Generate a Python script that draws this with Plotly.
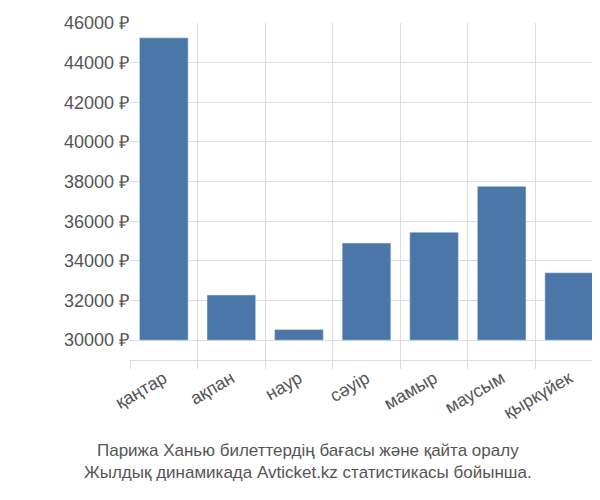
import plotly.graph_objects as go

months = ["қаңтар", "ақпан", "наур", "сәуір", "мамыр", "маусым", "қыркүйек"]
prices = [45250, 32280, 30540, 34900, 35450, 37760, 33400]
base_price = 30000
tick_vals = [30000, 32000, 34000, 36000, 38000, 40000, 42000, 44000, 46000]
tick_text = [f"{v} ₽" for v in tick_vals]

fig = go.Figure(go.Bar(
    x=months,
    y=[p - base_price for p in prices],
    base=base_price,
    marker_color="#4a76a8",
    width=0.72,
))

fig.update_layout(
    width=600, height=500,
    margin=dict(l=122, r=5, t=15, b=148, autoexpand=False),
    plot_bgcolor="white", paper_bgcolor="white",
    font=dict(family="Liberation Sans, Arial", color="#555", size=18),
    showlegend=False,
    annotations=[dict(
        text="Парижа Ханью билеттердің бағасы және қайта оралу<br>Жылдық динамикада Avticket.kz статистикасы бойынша.",
        xref="paper", yref="paper", x=(300 - 122) / 473, y=-0.235,
        xanchor="center", yanchor="top",
        showarrow=False, align="center", font=dict(size=17, color="#555"),
    )],
)
fig.update_xaxes(
    tickson="boundaries", showgrid=True, gridcolor="#ddd", tickangle=-30,
    ticks="outside", ticklen=8, tickcolor="#ddd", showline=True, linecolor="#ddd",
    automargin=False,
)
fig.update_yaxes(
    range=[29000, 46000], tickvals=tick_vals, ticktext=tick_text,
    showgrid=True, gridcolor="#ddd", zeroline=False, automargin=False,
)

fig.write_html("out.html")
